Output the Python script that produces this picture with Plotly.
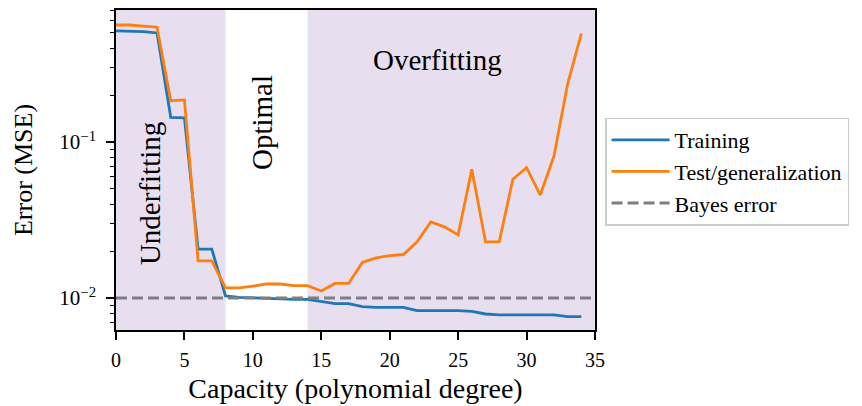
import math
import plotly.graph_objects as go

degrees = list(range(35))
train_err = [0.515, 0.515, 0.51, 0.50, 0.144, 0.143, 0.0206, 0.0206, 0.0103, 0.0101,
             0.0100, 0.0099, 0.0099, 0.0098, 0.0098, 0.0095, 0.0092, 0.0092, 0.0088, 0.0087,
             0.0087, 0.0087, 0.0083, 0.0083, 0.0083, 0.0083, 0.0082, 0.0079, 0.0078, 0.0078,
             0.0078, 0.0078, 0.0078, 0.0076, 0.0076]
test_err = [0.562, 0.562, 0.553, 0.544, 0.184, 0.186, 0.0173, 0.0173, 0.0116, 0.0116,
            0.0119, 0.0123, 0.0123, 0.0120, 0.0120, 0.0111, 0.0124, 0.0124, 0.0169, 0.0181,
            0.0187, 0.0190, 0.0229, 0.0307, 0.0286, 0.0254, 0.0668, 0.0229, 0.0229, 0.0577,
            0.0685, 0.0457, 0.0810, 0.235, 0.495]
bayes_err = 0.01
x_range = [0, 35]
regions = [(0, 8), (14, 35)]
region_labels = ["Underfitting", "Optimal", "Overfitting"]
label_pos = [(2.48, 0.047), (10.66, 0.134), (23.5, 0.336)]
label_angle = [-90, -90, 0]

FONT = "Liberation Serif"
fig = go.Figure()

fig.add_trace(go.Scatter(x=degrees, y=train_err, mode="lines", name="Training",
                         line=dict(color="#1f77b4", width=2.8)))
fig.add_trace(go.Scatter(x=degrees, y=test_err, mode="lines", name="Test/generalization",
                         line=dict(color="#ff7f0e", width=2.8)))
fig.add_trace(go.Scatter(x=x_range, y=[bayes_err, bayes_err], mode="lines", name="Bayes error",
                         line=dict(color="#7f7f7f", width=2.8, dash="11px,5px")))

for x0, x1 in regions:
    fig.add_shape(type="rect", xref="x", yref="paper", x0=x0, x1=x1, y0=0, y1=1,
                  fillcolor="rgb(231,223,240)", line=dict(width=0), layer="below")

for txt, (lx, ly), ang in zip(region_labels, label_pos, label_angle):
    fig.add_annotation(x=lx, y=math.log10(ly), text=txt, textangle=ang, showarrow=False,
                       font=dict(family=FONT, size=29, color="black"))

minor_vals = [0.007, 0.008, 0.009] + [k * 0.01 for k in range(2, 10)] + [k * 0.1 for k in range(2, 8)]

fig.update_layout(
    width=862, height=406,
    margin=dict(l=116, r=267, t=10, b=76, autoexpand=False),
    plot_bgcolor="white", paper_bgcolor="white",
    font=dict(family=FONT, size=20, color="black"),
    showlegend=True,
    legend=dict(x=1.021, y=0.664, xanchor="left", yanchor="top",
                bordercolor="#cccccc", borderwidth=1.5, bgcolor="white",
                font=dict(family=FONT, size=22), tracegroupgap=0, itemwidth=58),
    xaxis=dict(range=x_range, tickvals=[0, 5, 10, 15, 20, 25, 30, 35],
               ticks="outside", ticklen=8, tickwidth=1.6, tickcolor="black",
               showline=True, linecolor="black", linewidth=1.6, mirror=True,
               showgrid=False, zeroline=False, ticklabelstandoff=3,
               title=dict(text="Capacity (polynomial degree)", font=dict(family=FONT, size=28),
                          standoff=9),
               tickfont=dict(family=FONT, size=20)),
    yaxis=dict(type="log", range=[-2.205, -0.154],
               tickvals=[0.01, 0.1], ticktext=["10<sup>−2</sup>", "10<sup>−1</sup>"],
               ticks="outside", ticklen=8, tickwidth=1.6, tickcolor="black",
               minor=dict(tickvals=minor_vals, ticks="outside", ticklen=4.5, tickwidth=1.2,
                          tickcolor="black", showgrid=False),
               showline=True, linecolor="black", linewidth=1.6, mirror=True,
               showgrid=False, zeroline=False, ticklabelstandoff=6,
               title=dict(text="Error (MSE)", font=dict(family=FONT, size=26), standoff=19),
               tickfont=dict(family=FONT, size=21)),
)

fig.write_html("out.html")
